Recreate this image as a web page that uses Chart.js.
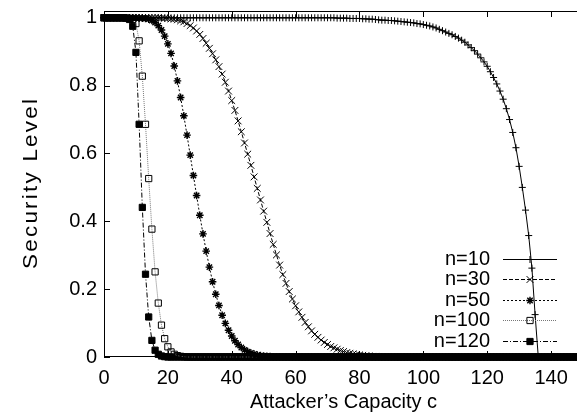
<!DOCTYPE html>
<html>
<head>
<meta charset="utf-8">
<script src="https://cdn.jsdelivr.net/npm/chart.js@4.4.1/dist/chart.umd.min.js"></script>
<style>
html, body { margin: 0; padding: 0; background: #fff; overflow: hidden; }
#wrap { width: 577px; height: 420px; overflow: hidden; }
#securityChart { display: block; }
</style>
</head>
<body>
<div id="wrap"><canvas id="securityChart" width="590" height="420"></canvas></div>
<script>
// attacker capacity c (x), one sample per unit
const capacity = [
    0, 1, 2, 3, 4, 5, 6, 7, 8, 9,
    10, 11, 12, 13, 14, 15, 16, 17, 18, 19,
    20, 21, 22, 23, 24, 25, 26, 27, 28, 29,
    30, 31, 32, 33, 34, 35, 36, 37, 38, 39,
    40, 41, 42, 43, 44, 45, 46, 47, 48, 49,
    50, 51, 52, 53, 54, 55, 56, 57, 58, 59,
    60, 61, 62, 63, 64, 65, 66, 67, 68, 69,
    70, 71, 72, 73, 74, 75, 76, 77, 78, 79,
    80, 81, 82, 83, 84, 85, 86, 87, 88, 89,
    90, 91, 92, 93, 94, 95, 96, 97, 98, 99,
    100, 101, 102, 103, 104, 105, 106, 107, 108, 109,
    110, 111, 112, 113, 114, 115, 116, 117, 118, 119,
    120, 121, 122, 123, 124, 125, 126, 127, 128, 129,
    130, 131, 132, 133, 134, 135, 136, 137, 138, 139,
    140, 141, 142, 143, 144, 145, 146, 147, 148, 149,
    150
];

const xTicks = [0, 20, 40, 60, 80, 100, 120, 140];
const yTicks = [0, 0.2, 0.4, 0.6, 0.8, 1];

// security level, n=10
const sec10 = [
    1, 1, 1, 1, 1, 1, 1, 1, 1, 1,
    1, 1, 1, 1, 1, 1, 1, 1, 1, 1,
    1, 1, 1, 1, 1, 1, 1, 1, 1, 1,
    1, 1, 1, 1, 1, 1, 1, 1, 1, 1,
    1, 1, 1, 1, 1, 1, 1, 1, 1, 1,
    1, 1, 1, 1, 1, 1, 1, 1, 1, 1,
    1, 1, 1, 1, 1, 1, 1, 1, 1, 1,
    1, 1, 1, 0.999, 0.999, 0.999, 0.999, 0.998, 0.998, 0.998,
    0.998, 0.997, 0.997, 0.996, 0.996, 0.995, 0.994, 0.993, 0.993, 0.992,
    0.992, 0.991, 0.990, 0.989, 0.988, 0.987, 0.986, 0.985, 0.983, 0.982,
    0.980, 0.978, 0.976, 0.973, 0.970, 0.966, 0.962, 0.958, 0.954, 0.950,
    0.945, 0.940, 0.934, 0.928, 0.920, 0.912, 0.903, 0.893, 0.882, 0.870,
    0.857, 0.841, 0.824, 0.805, 0.784, 0.760, 0.732, 0.700, 0.662, 0.617,
    0.562, 0.500, 0.433, 0.358, 0.262, 0.125, 0, 0, 0, 0,
    0, 0, 0, 0, 0, 0, 0, 0, 0, 0,
    0
];

// n=30
const sec30 = [
    1, 1, 1, 1, 1, 1, 1, 1, 1, 1,
    1, 1, 1, 1, 1, 1, 1, 1, 0.999, 0.999,
    0.998, 0.997, 0.996, 0.994, 0.991, 0.988, 0.983, 0.977, 0.970, 0.961,
    0.951, 0.939, 0.925, 0.910, 0.894, 0.876, 0.856, 0.834, 0.810, 0.784,
    0.756, 0.727, 0.696, 0.664, 0.631, 0.598, 0.565, 0.531, 0.497, 0.463,
    0.430, 0.397, 0.364, 0.332, 0.301, 0.271, 0.243, 0.217, 0.193, 0.171,
    0.151, 0.133, 0.117, 0.102, 0.089, 0.077, 0.067, 0.058, 0.050, 0.043,
    0.037, 0.031, 0.027, 0.023, 0.019, 0.016, 0.013, 0.011, 0.009, 0.007,
    0.006, 0.005, 0.004, 0.003, 0.002, 0.002, 0.001, 0.001, 0, 0,
    0, 0, 0, 0, 0, 0, 0, 0, 0, 0,
    0, 0, 0, 0, 0, 0, 0, 0, 0, 0,
    0, 0, 0, 0, 0, 0, 0, 0, 0, 0,
    0, 0, 0, 0, 0, 0, 0, 0, 0, 0,
    0, 0, 0, 0, 0, 0, 0, 0, 0, 0,
    0, 0, 0, 0, 0, 0, 0, 0, 0, 0,
    0
];

// n=50
const sec50 = [
    1, 1, 1, 1, 1, 1, 1, 1, 1, 1,
    1, 0.999, 0.999, 0.998, 0.996, 0.992, 0.986, 0.977, 0.964, 0.946,
    0.923, 0.895, 0.858, 0.814, 0.765, 0.711, 0.654, 0.595, 0.535, 0.476,
    0.418, 0.363, 0.312, 0.265, 0.222, 0.185, 0.152, 0.123, 0.099, 0.079,
    0.062, 0.048, 0.037, 0.028, 0.021, 0.016, 0.012, 0.009, 0.006, 0.004,
    0.003, 0.002, 0.001, 0, 0, 0, 0, 0, 0, 0,
    0, 0, 0, 0, 0, 0, 0, 0, 0, 0,
    0, 0, 0, 0, 0, 0, 0, 0, 0, 0,
    0, 0, 0, 0, 0, 0, 0, 0, 0, 0,
    0, 0, 0, 0, 0, 0, 0, 0, 0, 0,
    0, 0, 0, 0, 0, 0, 0, 0, 0, 0,
    0, 0, 0, 0, 0, 0, 0, 0, 0, 0,
    0, 0, 0, 0, 0, 0, 0, 0, 0, 0,
    0, 0, 0, 0, 0, 0, 0, 0, 0, 0,
    0, 0, 0, 0, 0, 0, 0, 0, 0, 0,
    0
];

// n=100
const sec100 = [
    1, 1, 1, 1, 1, 1, 1, 0.999, 0.998, 0.995,
    0.983, 0.932, 0.828, 0.686, 0.526, 0.377, 0.251, 0.159, 0.094, 0.054,
    0.030, 0.015, 0.008, 0.004, 0.002, 0.001, 0, 0, 0, 0,
    0, 0, 0, 0, 0, 0, 0, 0, 0, 0,
    0, 0, 0, 0, 0, 0, 0, 0, 0, 0,
    0, 0, 0, 0, 0, 0, 0, 0, 0, 0,
    0, 0, 0, 0, 0, 0, 0, 0, 0, 0,
    0, 0, 0, 0, 0, 0, 0, 0, 0, 0,
    0, 0, 0, 0, 0, 0, 0, 0, 0, 0,
    0, 0, 0, 0, 0, 0, 0, 0, 0, 0,
    0, 0, 0, 0, 0, 0, 0, 0, 0, 0,
    0, 0, 0, 0, 0, 0, 0, 0, 0, 0,
    0, 0, 0, 0, 0, 0, 0, 0, 0, 0,
    0, 0, 0, 0, 0, 0, 0, 0, 0, 0,
    0, 0, 0, 0, 0, 0, 0, 0, 0, 0,
    0
];

// n=120
const sec120 = [
    1, 1, 1, 1, 1, 1, 1, 0.999, 0.995, 0.975,
    0.898, 0.686, 0.441, 0.244, 0.118, 0.049, 0.020, 0.008, 0.003, 0.001,
    0, 0, 0, 0, 0, 0, 0, 0, 0, 0,
    0, 0, 0, 0, 0, 0, 0, 0, 0, 0,
    0, 0, 0, 0, 0, 0, 0, 0, 0, 0,
    0, 0, 0, 0, 0, 0, 0, 0, 0, 0,
    0, 0, 0, 0, 0, 0, 0, 0, 0, 0,
    0, 0, 0, 0, 0, 0, 0, 0, 0, 0,
    0, 0, 0, 0, 0, 0, 0, 0, 0, 0,
    0, 0, 0, 0, 0, 0, 0, 0, 0, 0,
    0, 0, 0, 0, 0, 0, 0, 0, 0, 0,
    0, 0, 0, 0, 0, 0, 0, 0, 0, 0,
    0, 0, 0, 0, 0, 0, 0, 0, 0, 0,
    0, 0, 0, 0, 0, 0, 0, 0, 0, 0,
    0, 0, 0, 0, 0, 0, 0, 0, 0, 0,
    0
];

const FONT = "'Liberation Sans', Arial, Helvetica, sans-serif";
Chart.defaults.font.family = FONT;
Chart.defaults.font.size = 20;
Chart.defaults.color = '#000';

// gnuplot-like styles per series
const series = [
    { label: 'n=10', values: sec10, line: '#000', dash: [], point: 'cross', radius: 3.5, width: 1, fill: '#000' },
    { label: 'n=30', values: sec30, line: '#000', dash: [4, 2], point: 'crossRot', radius: 4.8, width: 1, fill: '#000' },
    { label: 'n=50', values: sec50, line: '#000', dash: [2, 2], point: 'star', radius: 3.8, width: 1.4, fill: '#000' },
    { label: 'n=100', values: sec100, line: '#777', dash: [1, 1], point: 'rect', radius: 4.4, width: 1, fill: 'rgba(0,0,0,0)' },
    { label: 'n=120', values: sec120, line: '#000', dash: [5, 2, 1, 2], point: 'rect', radius: 4.4, width: 1, fill: '#000' }
];

// border box with inward ticks, like gnuplot
const framePlugin = {
    id: 'frame',
    beforeDatasetsDraw(chart) {
        const { ctx, chartArea: a, scales: { x, y } } = chart;
        ctx.save();
        ctx.strokeStyle = '#000';
        ctx.lineWidth = 1;
        ctx.setLineDash([]);
        ctx.strokeRect(a.left + 0.5, a.top + 0.5, a.right - a.left - 1, a.bottom - a.top - 1);
        ctx.beginPath();
        x.ticks.forEach(t => {
            const px = Math.round(x.getPixelForValue(t.value)) + 0.5;
            ctx.moveTo(px, a.bottom);
            ctx.lineTo(px, a.bottom - 6);
            ctx.moveTo(px, a.top);
            ctx.lineTo(px, a.top + 6);
        });
        y.ticks.forEach(t => {
            const py = Math.round(y.getPixelForValue(t.value)) + 0.5;
            ctx.moveTo(a.left, py);
            ctx.lineTo(a.left + 6, py);
            ctx.moveTo(a.right, py);
            ctx.lineTo(a.right - 6, py);
        });
        ctx.stroke();
        ctx.restore();
    }
};

// rotated y title; the reference sets it a bit wider than the other text
const yTitlePlugin = {
    id: 'yTitle',
    afterDraw(chart) {
        const ctx = chart.ctx;
        const a = chart.chartArea;
        ctx.save();
        ctx.translate(31, (a.top + a.bottom) / 2);
        ctx.rotate(-Math.PI / 2);
        ctx.scale(1.12, 1);
        ctx.font = '20px ' + FONT;
        ctx.letterSpacing = '2px';
        ctx.textAlign = 'center';
        ctx.textBaseline = 'middle';
        ctx.fillStyle = '#000';
        ctx.fillText('Security Level', 1, 0);
        ctx.restore();
    }
};

// key in the lower right: text, then line sample with marker
const keyPlugin = {
    id: 'key',
    afterDraw(chart) {
        const ctx = chart.ctx;
        ctx.save();
        ctx.font = '20px ' + FONT;
        ctx.textAlign = 'right';
        ctx.textBaseline = 'middle';
        chart.data.datasets.forEach((ds, i) => {
            const yy = Math.round(258.5 + i * 20.6) + 0.5;
            ctx.fillStyle = '#000';
            ctx.fillText(ds.label, 490, yy);
            ctx.strokeStyle = ds.borderColor;
            ctx.lineWidth = 1;
            ctx.setLineDash(ds.borderDash);
            ctx.beginPath();
            ctx.moveTo(503, yy);
            ctx.lineTo(557, yy);
            ctx.stroke();
            ctx.setLineDash([]);
            ctx.strokeStyle = ds.pointBorderColor;
            ctx.fillStyle = ds.pointBackgroundColor;
            ctx.lineWidth = ds.pointBorderWidth;
            Chart.helpers.drawPoint(ctx, {
                pointStyle: ds.pointStyle,
                radius: ds.pointRadius,
                borderWidth: ds.pointBorderWidth,
                rotation: 0
            }, 530, yy);
        });
        ctx.restore();
    }
};

const chart = new Chart(document.getElementById('securityChart'), {
    type: 'line',
    data: {
        datasets: series.map(s => ({
            label: s.label,
            data: capacity.map((c, i) => ({ x: c, y: s.values[i] })),
            borderColor: s.line,
            borderWidth: 1,
            borderDash: s.dash,
            pointStyle: s.point,
            pointRadius: s.radius,
            pointBorderColor: '#000',
            pointBackgroundColor: s.fill,
            pointBorderWidth: s.width,
            tension: 0,
            fill: false,
            clip: false
        }))
    },
    options: {
        responsive: false,
        animation: false,
        events: [],
        layout: { padding: { top: 11, right: 7, bottom: 0, left: 0 } },
        plugins: {
            legend: { display: false },
            tooltip: { enabled: false }
        },
        scales: {
            x: {
                type: 'linear',
                min: 0,
                max: 150,
                bounds: 'data',
                grid: { display: false, drawTicks: false },
                border: { display: false },
                ticks: { padding: 9, maxRotation: 0, autoSkip: false, callback: v => String(v) },
                title: { display: true, text: 'Attacker\u2019s Capacity c', padding: { top: 0, bottom: 6 } },
                afterBuildTicks: s => { s.ticks = xTicks.map(v => ({ value: v })); },
                afterFit: s => {
                    s.height = 63;
                    s.paddingLeft = 0;
                    s.paddingRight = 0;
                }
            },
            y: {
                type: 'linear',
                min: 0,
                max: 1.02,
                bounds: 'data',
                grid: { display: false, drawTicks: false },
                border: { display: false },
                ticks: { padding: 7, autoSkip: false, callback: v => String(v) },
                title: { display: false },
                afterBuildTicks: s => { s.ticks = yTicks.map(v => ({ value: v })); },
                afterFit: s => {
                    s.width = 104;
                    s.paddingTop = 0;
                    s.paddingBottom = 0;
                }
            }
        }
    },
    plugins: [framePlugin, yTitlePlugin, keyPlugin]
});
</script>
</body>
</html>
